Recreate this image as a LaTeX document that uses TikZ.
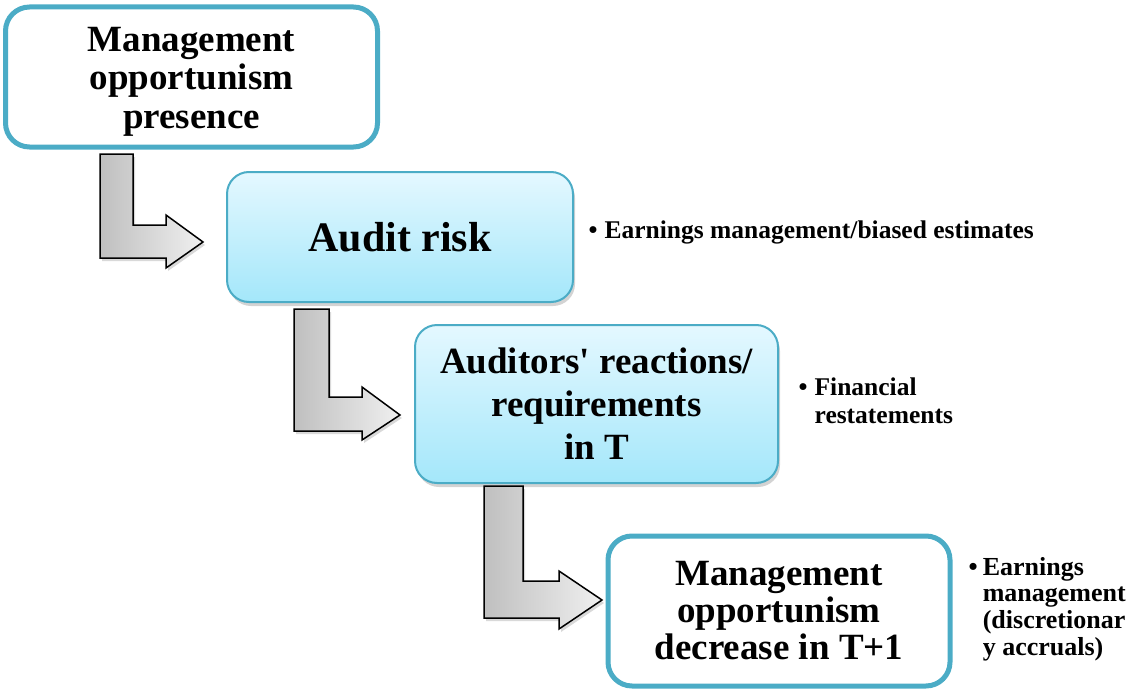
\documentclass[tikz,border=0pt]{standalone}
\usepackage{fontspec}
\newfontfamily\boxfont{Liberation Serif}
\usetikzlibrary{shadows}

\definecolor{boxline}{HTML}{4BACC6}
\definecolor{boxtop}{HTML}{E4F8FF}
\definecolor{boxbottom}{HTML}{A4E7FA}

\tikzset{
    whitebox/.style={draw=boxline, line width=5pt, fill=white, rounded corners=24pt,
        align=center, inner sep=0pt},
    bluebox/.style={draw=boxline, line width=2pt, top color=boxtop, bottom color=boxbottom,
        rounded corners=22pt, align=center, inner sep=0pt,
        drop shadow={shadow xshift=2pt, shadow yshift=-4pt, opacity=0.35}},
    bentarrow/.style={draw=black, line width=1.5pt, left color=gray!50, right color=gray!12,
        drop shadow={shadow xshift=2pt, shadow yshift=-3pt, opacity=0.3}},
    note/.style={anchor=base west, inner sep=0pt, font=\boxfont\bfseries\fontsize{25.5pt}{28pt}\selectfont}
}

\begin{document}
\begin{tikzpicture}[x=1pt, y=-1pt, every node/.style={font=\boxfont\bfseries}]
    \useasboundingbox (0, 0) rectangle (1129, 690);

    \node[whitebox, minimum width=372pt, minimum height=140pt,
          font=\boxfont\bfseries\fontsize{37pt}{38.5pt}\selectfont]
        (presence) at (191.5, 77)
        {\raisebox{-5pt}[\height][\depth]{\begin{tabular}{@{}c@{}}Management\\opportunism\\presence\end{tabular}}};
    \node[bluebox, minimum width=346pt, minimum height=130pt,
          font=\boxfont\bfseries\fontsize{42pt}{44pt}\selectfont]
        (risk) at (400, 237) {Audit risk};
    \node[bluebox, minimum width=363pt, minimum height=158pt,
          font=\boxfont\bfseries\fontsize{37pt}{43pt}\selectfont]
        (reactions) at (596.5, 404) {Auditors' reactions/\\requirements\\in T};
    \node[whitebox, minimum width=342pt, minimum height=150pt,
          font=\boxfont\bfseries\fontsize{37pt}{37pt}\selectfont]
        (decrease) at (779, 611) {Management\\opportunism\\decrease in T+1};

    \draw[bentarrow] (100, 154) -- (133, 154) -- (133, 225) -- (166, 225) -- (166, 215)
        -- (203, 242) -- (166, 268) -- (166, 258) -- (100, 258) -- cycle;
    \draw[bentarrow] (294, 309) -- (329, 309) -- (329, 397) -- (362, 397) -- (362, 387)
        -- (400, 415) -- (362, 440) -- (362, 431) -- (294, 431) -- cycle;
    \draw[bentarrow] (484, 486) -- (523, 486) -- (523, 581) -- (559, 581) -- (559, 571)
        -- (602, 600) -- (559, 629) -- (559, 618) -- (484, 618) -- cycle;

    \node[note] (biased) at (588.5, 238)
        {\begin{tabular}[t]{@{}l@{\hspace{7pt}}l@{}}\textbullet & Earnings management/biased estimates\end{tabular}};
    \node[note] (restate) at (798.5, 395)
        {\begin{tabular}[t]{@{}l@{\hspace{7pt}}l@{}}\textbullet & Financial\\ & restatements\end{tabular}};
    \node[note, font=\boxfont\bfseries\fontsize{26pt}{26.7pt}\selectfont] (accruals) at (968.5, 575)
        {\begin{tabular}[t]{@{}l@{\hspace{5pt}}l@{}}\textbullet & Earnings\\ & management\\ & (discretionar\\ & y accruals)\end{tabular}};
\end{tikzpicture}
\end{document}
